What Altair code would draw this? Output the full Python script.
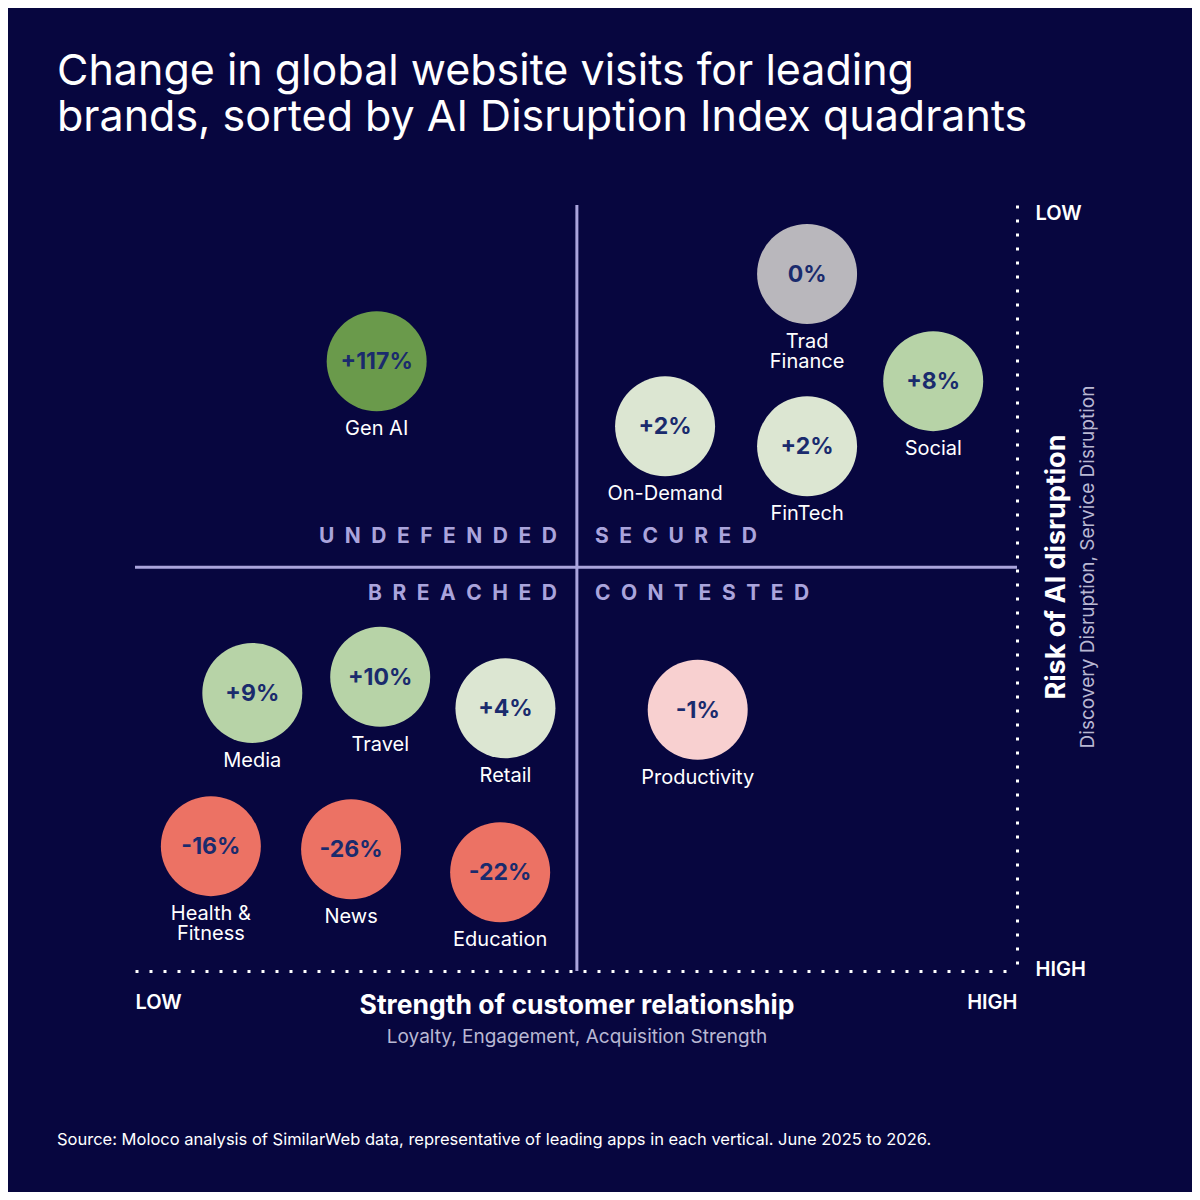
import altair as alt
import pandas as pd

# ---------------- data ----------------
brands = ["Gen AI", "Trad Finance", "Social", "On-Demand", "FinTech", "Media",
          "Travel", "Retail", "Productivity", "Health & Fitness", "News", "Education"]
label_lines = ["Gen AI", "Trad\nFinance", "Social", "On-Demand", "FinTech", "Media",
               "Travel", "Retail", "Productivity", "Health &\nFitness", "News", "Education"]
visit_change = [117, 0, 8, 2, 2, 9, 10, 4, -1, -16, -26, -22]
# strength of customer relationship (0 = low, 100 = high)
relationship_strength = [27.4, 76.2, 90.5, 60.1, 76.2, 13.3, 27.8, 42.0, 63.8, 8.6, 24.5, 41.4]
# risk of AI disruption (0 = low, 100 = high)
disruption_risk = [20.4, 9.0, 23.0, 28.9, 31.5, 63.7, 61.6, 65.7, 65.9, 83.7, 84.1, 87.1]

strength_split = 50.1
risk_split = 47.3

quadrant_names = ["UNDEFENDED", "SECURED", "BREACHED", "CONTESTED"]
quadrant_cols = ["left", "right", "left", "right"]
quadrant_rows = ["upper", "upper", "lower", "lower"]

axis_ends = ["LOW", "HIGH"]
title_lines = ["Change in global website visits for leading",
               "brands, sorted by AI Disruption Index quadrants"]
x_title = "Strength of customer relationship"
x_subtitle = "Loyalty, Engagement, Acquisition Strength"
y_title = "Risk of AI disruption"
y_subtitle = "Discovery Disruption, Service Disruption"
source_note = ("Source: Moloco analysis of SimilarWeb data, representative of leading apps "
               "in each vertical. June 2025 to 2026.")

tier_names = ["Surging (+50% or more)", "Growing (+5% to +49%)", "Edging up (+1% to +4%)",
              "Flat (0%)", "Edging down (-1% to -4%)", "Falling (-5% or less)"]
tier_colors = ["#6a9a4b", "#b7d3a7", "#dce6d2", "#b9b7bc", "#f8d0d0", "#ec7264"]


def tier(v):
    if v >= 50:
        return tier_names[0]
    if v >= 5:
        return tier_names[1]
    if v > 0:
        return tier_names[2]
    if v == 0:
        return tier_names[3]
    if v > -5:
        return tier_names[4]
    return tier_names[5]


df = pd.DataFrame({
    "brand": brands,
    "label": label_lines,
    "change": visit_change,
    "strength": relationship_strength,
    "risk": disruption_risk,
})
df["change_text"] = ["0%" if v == 0 else f"{v:+d}%" for v in visit_change]
df["tier"] = [tier(v) for v in visit_change]

quad_df = pd.DataFrame({
    "quadrant": quadrant_names,
    "col": quadrant_cols,
    "row": quadrant_rows,
})
quad_df["spaced"] = ["\u2002".join(list(q)) for q in quadrant_names]

# ---------------- style ----------------
FONT = "Inter"
BG = "#07063f"
LAVENDER = "#aaa4dc"
NAVY_TEXT = "#1a2b6d"
SUBTLE = "#b9b8d3"
W, H = 882, 766

xs = alt.Scale(domain=[0, 100], nice=False, zero=False)
ys = alt.Scale(domain=[0, 100], nice=False, zero=False, reverse=True)

end_expr = f"datum.value == 0 ? '{axis_ends[0]}' : '{axis_ends[1]}'"
x_axis = alt.Axis(values=[0, 100], labelExpr=end_expr, title=None, grid=False, ticks=False,
                  domainColor="#ffffff", domainWidth=3, domainDash=[3, 11], domainCap="butt",
                  labelFlush=True, labelPadding=21, labelColor="#ffffff", labelFont=FONT,
                  labelFontSize=20, labelFontWeight=600)
y_axis = alt.Axis(orient="right", values=[0, 100], labelExpr=end_expr, title=None, grid=False,
                  ticks=False, domainColor="#ffffff", domainWidth=3, domainDash=[3, 11],
                  domainCap="butt", labelFlush=False, labelBaseline="middle",
                  labelOffset=alt.condition("datum.value == 0", alt.value(8), alt.value(-2)),
                  labelPadding=18, labelAlign="left",
                  labelColor="#ffffff", labelFont=FONT, labelFontSize=20, labelFontWeight=600)

X = alt.X("strength:Q", scale=xs, axis=x_axis)
Y = alt.Y("risk:Q", scale=ys, axis=y_axis)

base = alt.Chart(df)

v_divider = alt.Chart(pd.DataFrame({"split": [strength_split]})).mark_rule(
    color=LAVENDER, strokeWidth=3).encode(
    x=alt.X("split:Q", scale=xs, axis=x_axis))
h_divider = alt.Chart(pd.DataFrame({"split": [risk_split]})).mark_rule(
    color=LAVENDER, strokeWidth=3).encode(
    y=alt.Y("split:Q", scale=ys, axis=y_axis))

circles = base.mark_circle(size=10000, opacity=1).encode(
    x=X, y=Y,
    color=alt.Color("tier:N", scale=alt.Scale(domain=tier_names, range=tier_colors), legend=None),
    tooltip=["brand:N", "change_text:N"],
)
values = base.mark_text(font=FONT, fontSize=23, fontWeight=700, color=NAVY_TEXT,
                        baseline="middle", dy=1).encode(x=X, y=Y, text="change_text:N")
labels = base.mark_text(font=FONT, fontSize=20, fontWeight=400, color="#ffffff",
                        baseline="top", dy=58, lineBreak="\n", lineHeight=20).encode(
    x=X, y=Y, text="label:N")

quad_base = alt.Chart(quad_df).transform_calculate(sx=str(strength_split), sy=str(risk_split))
qx = alt.X("sx:Q", scale=xs, axis=x_axis)
qy = alt.Y("sy:Q", scale=ys, axis=y_axis)
quad_layers = []
for col, row in [("left", "upper"), ("right", "upper"), ("left", "lower"), ("right", "lower")]:
    quad_layers.append(
        quad_base.transform_filter(
            (alt.datum.col == col) & (alt.datum.row == row)
        ).mark_text(
            font=FONT, fontSize=21, fontWeight=700, color=LAVENDER, baseline="middle",
            align="right" if col == "left" else "left",
            dx=-20 if col == "left" else 18,
            dy=-30 if row == "upper" else 27,
        ).encode(x=qx, y=qy, text="spaced:N")
    )


def note(txt, x, y, size, weight, color, align="center", angle=0):
    return alt.Chart(pd.DataFrame({"t": [txt]})).mark_text(
        font=FONT, fontSize=size, fontWeight=weight, color=color, align=align,
        baseline="middle", angle=angle,
    ).encode(text="t:N", x=alt.value(x), y=alt.value(y))


notes = [
    note(x_title, 442, 801, 26.5, 700, "#ffffff"),
    note(x_subtitle, 442, 832, 19, 400, SUBTLE),
    note(y_title, 922, 362, 27, 700, "#ffffff", angle=270),
    note(y_subtitle, 953, 362, 19, 400, SUBTLE, angle=270),
    note(source_note, -78, 935, 16.5, 400, "#ffffff", align="left"),
]

chart = alt.layer(
    v_divider, h_divider, circles, values, labels, *quad_layers, *notes
).properties(
    width=W, height=H,
    background=BG,
    autosize=alt.AutoSizeParams(type="none"),
    padding={"left": 127, "top": 197, "right": 175, "bottom": 221},
    title=alt.TitleParams(
        text=title_lines, anchor="start", frame="group", dx=-78, offset=63,
        font=FONT, fontSize=43, fontWeight=400, lineHeight=46, color="#ffffff",
    ),
).configure_view(stroke=None)

chart.save("out.html", embed_options={"renderer": "svg", "actions": False})
